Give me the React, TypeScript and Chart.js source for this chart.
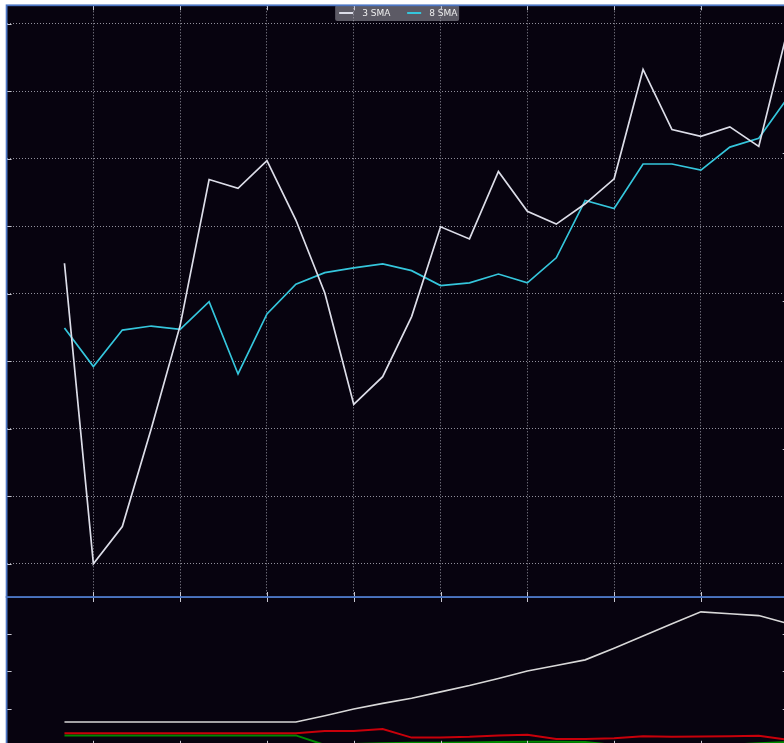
import React, { useEffect, useRef } from "react";
import { Chart, registerables } from "chart.js";

Chart.register(...registerables);
Chart.defaults.font.family = "DejaVu Sans";

// ---- data ----
const sma3Label = "3 SMA";
const sma8Label = "8 SMA";
const sma3 = [4.45, 0.0, 0.55, 2.0, 3.53, 5.69, 5.56, 5.97, 5.09, 4.01, 2.36, 2.77, 3.66, 4.99, 4.81, 5.81, 5.22, 5.03, 5.33, 5.7, 7.32, 6.43, 6.33, 6.47, 6.18, 7.91];
const sma8 = [3.49, 2.92, 3.46, 3.52, 3.47, 3.88, 2.81, 3.7, 4.14, 4.31, 4.38, 4.44, 4.34, 4.12, 4.16, 4.29, 4.16, 4.53, 5.38, 5.26, 5.92, 5.92, 5.83, 6.17, 6.3, 6.9];
const valueLabel = "Value";
const lossLabel = "Loss";
const gainLabel = "Gain";
const valueSeries = [0.64, 0.64, 0.64, 0.64, 0.64, 0.64, 0.64, 0.64, 0.64, 0.81, 0.99, 1.14, 1.28, 1.45, 1.62, 1.81, 2.01, 2.16, 2.31, 2.62, 2.95, 3.28, 3.6, 3.55, 3.5, 3.29];
const lossSeries = [0.34, 0.34, 0.34, 0.34, 0.34, 0.34, 0.34, 0.34, 0.34, 0.4, 0.4, 0.45, 0.22, 0.22, 0.24, 0.28, 0.3, 0.18, 0.18, 0.2, 0.26, 0.24, 0.25, 0.26, 0.27, 0.16];
const gainSeries = [0.28, 0.28, 0.28, 0.28, 0.28, 0.28, 0.28, 0.28, 0.28, 0.02, 0.05, 0.07, 0.08, 0.08, 0.09, 0.1, 0.11, 0.11, 0.1, 0.02, -0.02, -0.02, 0.0, 0.03, 0.07, 0.1];

const xMin = -2;
const xMax = 25;
const xGridTicks = [1, 4, 7, 10, 13, 16, 19, 22, 25];
const mainYTicks = [0, 1, 2, 3, 4, 5, 6, 7, 8];
const mainYMin = -0.493;
const mainYMax = 8.27;
const rightYTicks = [1, 2, 3];
const rightYMin = 0;
const rightYMax = 4;
const lowerYTicks = [1, 2, 3];
const lowerYMin = 0;
const lowerYMax = 4;

// ---- styles ----
const BG = "#07030f";
const BORDER = "#4c76c4";
const GRID = "rgba(170,170,182,0.85)";
const TICK = "#c8c8d2";
const C_WHITE = "#dcdde8";
const C_CYAN = "#35c6dc";
const C_VAL = "#d8d8d8";
const C_RED = "#c8000a";
const C_GREEN = "#008a00";

const toXY = (arr: number[]) => arr.map((v, i) => ({ x: i, y: v }));

type PanelOpts = {
  legend: boolean;
  leftScale: string;
  leftTicks: number[];
  rightScale: string;
  rightTicks: number[];
};

function makePanelPlugin(o: PanelOpts) {
  return {
    id: "panelDeco",
    beforeDraw(chart: any) {
      const { ctx, chartArea: a } = chart;
      ctx.save();
      ctx.fillStyle = BG;
      ctx.fillRect(a.left, a.top, a.right - a.left, a.bottom - a.top);
      if (o.legend) {
        const cx = (a.left + a.right) / 2;
        const bx = cx - 62;
        const by = a.top - 0.3;
        const bw = 124;
        const bh = 16;
        ctx.fillStyle = "rgba(100,98,108,0.92)";
        ctx.beginPath();
        const r = 2;
        ctx.moveTo(bx + r, by);
        ctx.lineTo(bx + bw - r, by);
        ctx.quadraticCurveTo(bx + bw, by, bx + bw, by + r);
        ctx.lineTo(bx + bw, by + bh - r);
        ctx.quadraticCurveTo(bx + bw, by + bh, bx + bw - r, by + bh);
        ctx.lineTo(bx + r, by + bh);
        ctx.quadraticCurveTo(bx, by + bh, bx, by + bh - r);
        ctx.lineTo(bx, by + r);
        ctx.quadraticCurveTo(bx, by, bx + r, by);
        ctx.fill();
        const ds = chart.data.datasets;
        const cy = by + bh / 2;
        const items = [
          { s: 4, t: 27 },
          { s: 72, t: 94 },
        ];
        ctx.font = "9px 'DejaVu Sans'";
        ctx.textBaseline = "middle";
        ds.forEach((d: any, i: number) => {
          const it = items[i];
          if (!it) return;
          ctx.strokeStyle = d.borderColor;
          ctx.lineWidth = 2;
          ctx.beginPath();
          ctx.moveTo(bx + it.s, cy);
          ctx.lineTo(bx + it.s + 14, cy);
          ctx.stroke();
          ctx.fillStyle = "#eeeeee";
          ctx.fillText(d.label, bx + it.t, cy + 0.5);
        });
      }
      ctx.restore();
    },
    afterDraw(chart: any) {
      const { ctx, chartArea: a, scales } = chart;
      ctx.save();
      ctx.strokeStyle = TICK;
      ctx.lineWidth = 1;
      const L = 5;
      ctx.beginPath();
      xGridTicks.forEach((v) => {
        const px = Math.round(scales.x.getPixelForValue(v)) + 0.5;
        ctx.moveTo(px, a.bottom);
        ctx.lineTo(px, a.bottom - L);
        ctx.moveTo(px, a.top);
        ctx.lineTo(px, a.top + L);
      });
      o.leftTicks.forEach((v) => {
        const py = Math.round(scales[o.leftScale].getPixelForValue(v)) + 0.5;
        ctx.moveTo(a.left, py);
        ctx.lineTo(a.left + L, py);
      });
      o.rightTicks.forEach((v) => {
        const py = Math.round(scales[o.rightScale].getPixelForValue(v)) + 0.5;
        ctx.moveTo(a.right, py);
        ctx.lineTo(a.right - L, py);
      });
      ctx.stroke();
      ctx.strokeStyle = BORDER;
      ctx.lineWidth = 1.8;
      ctx.strokeRect(a.left, a.top, a.right - a.left, a.bottom - a.top);
      ctx.restore();
    },
  };
}

const xScale = (showGrid: boolean) => ({
  type: "linear",
  min: xMin,
  max: xMax,
  display: true,
  afterBuildTicks: (s: any) => {
    s.ticks = xGridTicks.map((v) => ({ value: v }));
  },
  ticks: { display: false },
  grid: { display: showGrid, color: GRID, lineWidth: 1, drawTicks: false },
  border: { display: false, dash: [1, 2] },
  afterFit: (s: any) => {
    s.height = 0;
  },
});

export default function App() {
  const topRef = useRef<HTMLCanvasElement>(null);
  const botRef = useRef<HTMLCanvasElement>(null);

  useEffect(() => {
    const top = new Chart(topRef.current as HTMLCanvasElement, {
      type: "line",
      data: {
        datasets: [
          { label: sma3Label, data: toXY(sma3), borderColor: C_WHITE, borderWidth: 1.7, pointRadius: 0, tension: 0, yAxisID: "y" },
          { label: sma8Label, data: toXY(sma8), borderColor: C_CYAN, borderWidth: 1.7, pointRadius: 0, tension: 0, yAxisID: "y" },
        ],
      },
      options: {
        animation: false,
        responsive: false,
        events: [],
        layout: { padding: { left: 6.6, top: 5.3, right: 12.3, bottom: 3 } },
        plugins: { legend: { display: false }, tooltip: { enabled: false } },
        scales: {
          x: xScale(true) as any,
          y: {
            type: "linear",
            position: "left",
            min: mainYMin,
            max: mainYMax,
            afterBuildTicks: (s: any) => {
              s.ticks = mainYTicks.map((v) => ({ value: v }));
            },
            ticks: { display: false },
            grid: { color: GRID, lineWidth: 1, drawTicks: false },
            border: { display: false, dash: [1, 2] },
            afterFit: (s: any) => {
              s.width = 0;
            },
          },
          y2: {
            type: "linear",
            position: "right",
            min: rightYMin,
            max: rightYMax,
            display: true,
            ticks: { display: false },
            grid: { display: false, drawTicks: false },
            border: { display: false },
            afterFit: (s: any) => {
              s.width = 0;
            },
          },
        },
      },
      plugins: [
        makePanelPlugin({ legend: true, leftScale: "y", leftTicks: mainYTicks, rightScale: "y2", rightTicks: rightYTicks }),
      ],
    } as any);

    const bot = new Chart(botRef.current as HTMLCanvasElement, {
      type: "line",
      data: {
        datasets: [
          { label: valueLabel, data: toXY(valueSeries), borderColor: C_VAL, borderWidth: 1.6, pointRadius: 0, tension: 0, yAxisID: "y" },
          { label: lossLabel, data: toXY(lossSeries), borderColor: C_RED, borderWidth: 2, pointRadius: 0, tension: 0, yAxisID: "y" },
          { label: gainLabel, data: toXY(gainSeries), borderColor: C_GREEN, borderWidth: 2, pointRadius: 0, tension: 0, yAxisID: "y" },
        ],
      },
      options: {
        animation: false,
        responsive: false,
        events: [],
        layout: { padding: { left: 6.6, top: 7, right: 12.3, bottom: 14.2 } },
        plugins: { legend: { display: false }, tooltip: { enabled: false } },
        scales: {
          x: xScale(false) as any,
          y: {
            type: "linear",
            position: "left",
            min: lowerYMin,
            max: lowerYMax,
            afterBuildTicks: (s: any) => {
              s.ticks = lowerYTicks.map((v) => ({ value: v }));
            },
            ticks: { display: false },
            grid: { display: false, drawTicks: false },
            border: { display: false },
            afterFit: (s: any) => {
              s.width = 0;
            },
          },
        },
      },
      plugins: [
        makePanelPlugin({ legend: false, leftScale: "y", leftTicks: lowerYTicks, rightScale: "y", rightTicks: lowerYTicks }),
      ],
    } as any);

    return () => {
      top.destroy();
      bot.destroy();
    };
  }, []);

  return (
    <div style={{ position: "fixed", left: 0, top: 0, width: 784, height: 743, overflow: "hidden", background: "#ffffff" }}>
      <canvas ref={botRef} width={800} height={170} style={{ position: "absolute", left: 0, top: 590, width: 800, height: 170 }} />
      <canvas ref={topRef} width={800} height={600} style={{ position: "absolute", left: 0, top: 0, width: 800, height: 600 }} />
    </div>
  );
}
